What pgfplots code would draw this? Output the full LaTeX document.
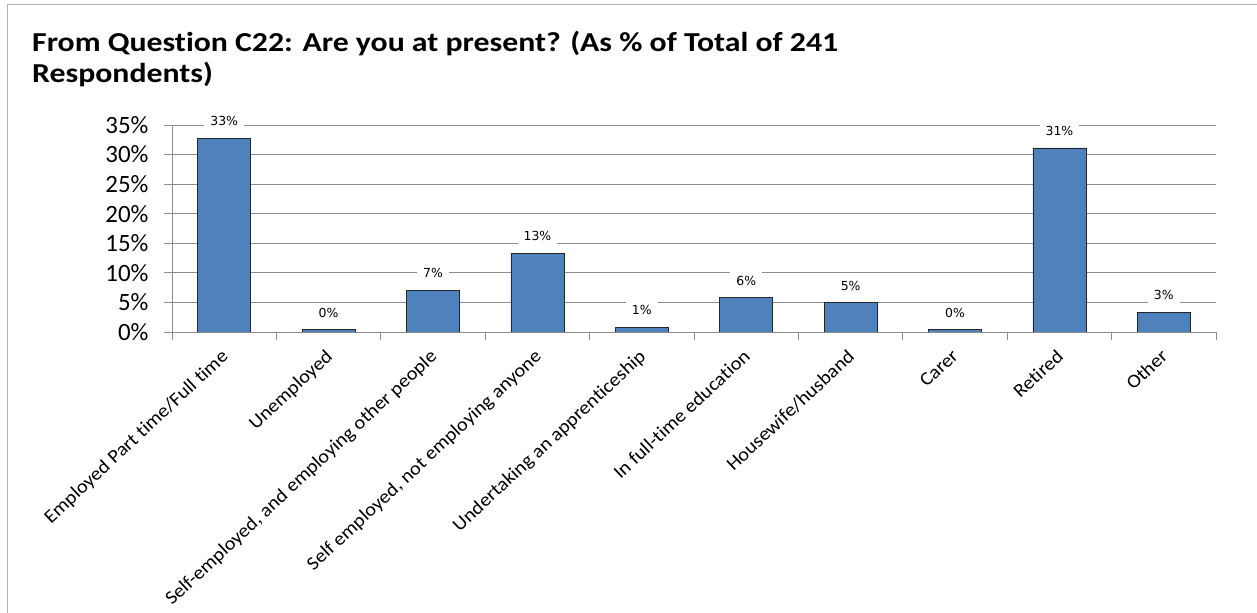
\documentclass[border=0pt]{standalone}
\usepackage{pgfplots}
\pgfplotsset{compat=1.18}
\usepackage{pgfplotstable}
\usepackage{fontspec}
\setmainfont{Carlito}[Ligatures=NoCommon]
\newfontfamily\titlefont{Carlito}[FakeStretch=1.16, Ligatures=NoCommon]
\newfontfamily\xlabfont{Carlito}[FakeStretch=1.08, Ligatures=NoCommon]
\newfontfamily\labfont{DejaVu Sans}
\definecolor{barblue}{HTML}{4F81BD}
\definecolor{gridgray}{HTML}{8C8C8C}
\pgfplotstableread{
x y lab
0 32.78 33\%
1 0.41 0\%
2 7.05 7\%
3 13.28 13\%
4 0.83 1\%
5 5.81 6\%
6 4.98 5\%
7 0.41 0\%
8 31.12 31\%
9 3.32 3\%
}\datatable
\begin{document}
\begin{tikzpicture}
\path[use as bounding box] (0,0) rectangle (1257bp,613bp);
\draw[gray!60, line width=1bp] (7bp,-5bp) -- (7bp,608bp) -- (1265bp,608bp);
\node[anchor=base west, inner sep=0pt, font=\titlefont\fontsize{27.5}{32}\selectfont\bfseries] at (32bp,561bp) {From Question C22: Are you at present? (As \% of Total of 241};
\node[anchor=base west, inner sep=0pt, font=\titlefont\fontsize{27.5}{32}\selectfont\bfseries] at (32bp,530bp) {Respondents)};
\begin{axis}[
  at={(172bp,281bp)}, anchor=south west,
  scale only axis, width=1044bp, height=207bp,
  xmin=-0.5, xmax=9.5, ymin=0, ymax=35,
  axis lines*=left,
  axis line style={gridgray, line width=0.8bp},
  ymajorgrids, grid style={gridgray, line width=0.8bp},
  ytick={0,5,...,35},
  yticklabel={\pgfmathprintnumber{\tick}\%},
  /pgf/number format/assume math mode=true,
  yticklabel style={font=\fontsize{25}{25}\selectfont, xshift=-12bp},
  tick align=outside,
  major tick length=8bp, minor tick length=8bp,
  every tick/.style={gridgray, line width=0.8bp},
  xtick={0,...,9},
  major x tick style={draw=none},
  minor xtick={-0.5,0.5,...,9.5},
  xticklabels={Employed Part time/Full time, Unemployed, {Self-employed, and employing other people}, {Self employed, not employing anyone}, Undertaking an apprenticeship, In full-time education, Housewife/husband, Carer, Retired, Other},
  xticklabel style={font=\xlabfont\fontsize{19}{19}\selectfont, anchor=north east, inner sep=0pt, xshift=-4bp, yshift=-8bp, rotate=43},
]
\addplot[ybar, bar width=53bp, fill=barblue, draw=black!85, line width=0.8bp,
  nodes near coords, point meta=explicit symbolic,
  every node near coord/.style={font=\labfont\fontsize{12.5}{12.5}\selectfont, fill=white, inner xsep=6bp, inner ysep=4.5bp, anchor=center, yshift=17bp, text=black}]
  table[x=x, y=y, meta=lab] {\datatable};
\end{axis}
\end{tikzpicture}
\end{document}
